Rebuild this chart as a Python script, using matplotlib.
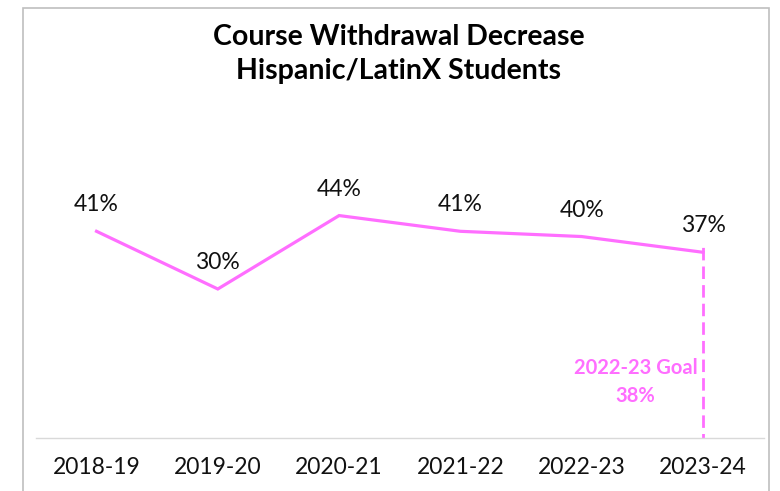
import matplotlib.pyplot as plt
from matplotlib.patches import Rectangle

years = ['2018-19', '2019-20', '2020-21', '2021-22', '2022-23', '2023-24']
rates = [0.41, 0.30, 0.44, 0.41, 0.40, 0.37]
goal = 0.38
goal_label = '2022-23 Goal\n38%'
title = 'Course Withdrawal Decrease\nHispanic/LatinX Students'

pink = '#FF6EFF'
plt.rcParams['font.family'] = ['Lato', 'DejaVu Sans']

fig = plt.figure(figsize=(7.8, 4.91), dpi=100)
ax = fig.add_axes([0.046, 0.108, 0.933, 0.688])

x = list(range(len(years)))
ax.plot(x, rates, color=pink, lw=2.3, solid_joinstyle='miter')
for xi, v in zip(x, rates):
    ax.annotate(f'{v:.0%}', (xi, v), xytext=(0, 19), textcoords='offset points',
                ha='center', va='center', fontsize=16.5, color='#111111')

# goal drop line on the last year
ax.vlines(x[-1], 0, goal, colors=pink, linestyles=(0, (4.5, 2.2)), lw=2)
ax.annotate(goal_label, (x[-1], 0.122), xytext=(-4, 0), textcoords='offset points',
            ha='right', va='center', multialignment='center',
            fontsize=14.5, fontweight='bold', color=pink, linespacing=1.5)

ax.set_xlim(-0.5, len(years) - 0.5)
ax.set_ylim(0.016, 0.66)
ax.set_xticks(x)
ax.set_xticklabels(years, fontsize=16.5, color='#111111')
ax.tick_params(axis='x', length=0, pad=14)
ax.set_yticks([])
for s in ['top', 'right', 'left']:
    ax.spines[s].set_visible(False)
ax.spines['bottom'].set_color('#D9D9D9')
ax.spines['bottom'].set_linewidth(1)

fig.text(0.5115, 0.89, title, ha='center', va='center', fontsize=20.5,
         fontweight='bold', linespacing=1.35)

# chart frame
fig.patches.append(Rectangle((23 / 780, -0.1), 746 / 780, 1.1 - 8 / 491,
                             transform=fig.transFigure, fill=False,
                             edgecolor='#BFBFBF', lw=1.2))

fig.savefig('out.png', dpi=100)
